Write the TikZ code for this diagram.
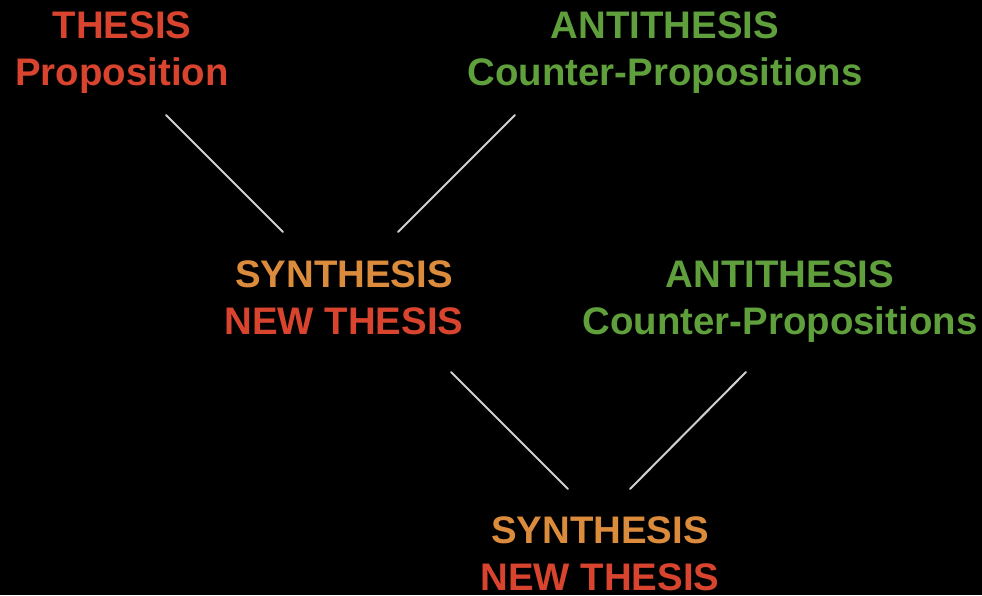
\documentclass[tikz,border=0pt]{standalone}
\usepackage{fontspec}
\setmainfont{Liberation Sans}
\definecolor{thred}{HTML}{D9442E}
\definecolor{thgreen}{HTML}{5FA03C}
\definecolor{thorange}{HTML}{DB8B3C}
\definecolor{thline}{HTML}{D0D0D0}
\begin{document}
\begin{tikzpicture}[x=1pt,y=-1pt,
  lbl/.style={inner sep=0pt,anchor=north,align=center,
    font=\fontsize{38.4}{47}\selectfont\bfseries},
  link/.style={draw=thline,line width=2pt,line cap=round}]
\fill[black] (0,0) rectangle (982,595);
\useasboundingbox (0,0) rectangle (982,595);
\node[lbl] (thesis) at (122,11.5) {\textcolor{thred}{THESIS}\\\textcolor{thred}{Proposition}};
\node[lbl] (anti1) at (665,11.5) {\textcolor{thgreen}{ANTITHESIS}\\\textcolor{thgreen}{Counter-Propositions}};
\node[lbl] (syn1) at (344,260) {\textcolor{thorange}{SYNTHESIS}\\\textcolor{thred}{NEW THESIS}};
\node[lbl] (anti2) at (780,260) {\textcolor{thgreen}{ANTITHESIS}\\\textcolor{thgreen}{Counter-Propositions}};
\node[lbl] (syn2) at (600,516) {\textcolor{thorange}{SYNTHESIS}\\\textcolor{thred}{NEW THESIS}};
\coordinate (a1) at (166,115); \coordinate (a2) at (283,232);
\coordinate (b1) at (515,115); \coordinate (b2) at (398,232);
\coordinate (c1) at (451,372); \coordinate (c2) at (568,489);
\coordinate (d1) at (746,372); \coordinate (d2) at (630,489);
\draw[link] (a1) -- (a2);
\draw[link] (b1) -- (b2);
\draw[link] (c1) -- (c2);
\draw[link] (d1) -- (d2);
\end{tikzpicture}
\end{document}
